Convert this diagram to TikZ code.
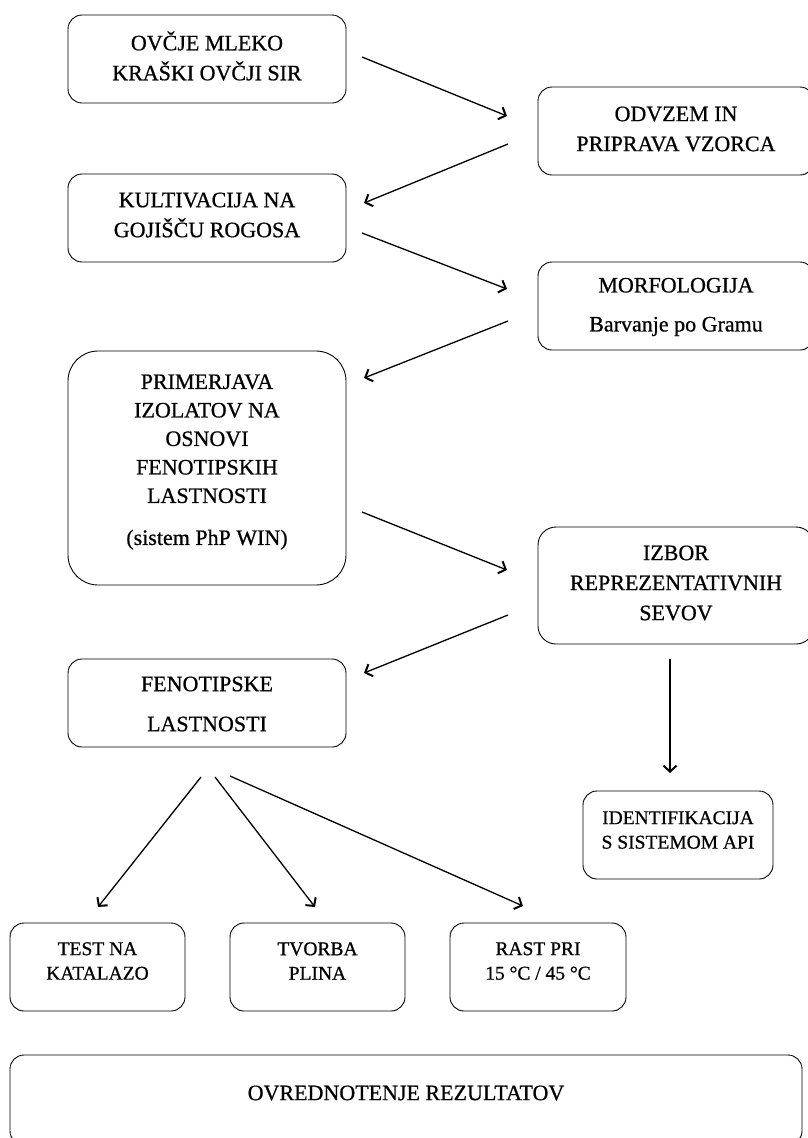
\documentclass[tikz,border=0pt]{standalone}
\usepackage{fontspec}
\setmainfont{Liberation Serif}[FakeBold=0.7]
\usetikzlibrary{arrows.meta}
\begin{document}
\begin{tikzpicture}[x=1pt,y=-1pt,
  box/.style={draw, line width=0.9pt, rounded corners=14pt, inner sep=0pt,
              minimum width=278pt, minimum height=88pt},
  txt/.style={align=center, inner sep=0pt},
  big/.style={font=\fontsize{22}{30}\selectfont},
  small/.style={font=\fontsize{19.5}{24.5}\selectfont},
  arr/.style={-{Straight Barb[length=6pt,width=13pt,line width=2pt]}, line width=1.3pt}
]
\useasboundingbox (0,0) rectangle (807,1138);

% boxes
\node[box] (b1) at (207,59) {};
\node[box, minimum width=276pt] (b2) at (676,131) {};
\node[box] (b3) at (207,218) {};
\node[box, minimum width=276pt] (b4) at (676,306) {};
\node[box, minimum height=234pt, rounded corners=30pt] (b5) at (207,468) {};
\node[box, minimum width=276pt, minimum height=117pt, rounded corners=18pt] (b6) at (676,585.5) {};
\node[box] (b7) at (207,703) {};
\node[box, minimum width=190pt] (b8) at (678,835) {};
\node[box, minimum width=175pt] (b9) at (97.5,967) {};
\node[box, minimum width=175pt] (b10) at (317.5,967) {};
\node[box, minimum width=176pt] (b11) at (538,967) {};
\node[box, minimum width=792pt, minimum height=90pt] (b12) at (406,1100) {};

% texts
\node[txt, big] (t1) at (207,56) {OVČJE MLEKO\\KRAŠKI OVČJI SIR};
\node[txt, big] (t2) at (676,129) {ODVZEM IN\\PRIPRAVA VZORCA};
\node[txt, big] (t3) at (207,215) {KULTIVACIJA NA\\GOJIŠČU ROGOSA};
\node[txt, font=\fontsize{22}{39}\selectfont] (t4) at (676,307) {MORFOLOGIJA\\Barvanje po Gramu};
\node[txt, font=\fontsize{22}{28.5}\selectfont] (t5) at (207,462) {PRIMERJAVA\\IZOLATOV NA\\OSNOVI\\FENOTIPSKIH\\LASTNOSTI\\[13.5pt](sistem PhP WIN)};
\node[txt, big] (t6) at (676,583) {IZBOR\\REPREZENTATIVNIH\\SEVOV};
\node[txt, font=\fontsize{22}{40}\selectfont] (t7) at (207,704) {FENOTIPSKE\\LASTNOSTI};
\node[txt, small] (t8) at (678,830) {IDENTIFIKACIJA\\S SISTEMOM API};
\node[txt, small] (t9) at (97.5,961) {TEST NA\\KATALAZO};
\node[txt, small] (t10) at (317.5,961) {TVORBA\\PLINA};
\node[txt, small] (t11) at (538,961) {RAST PRI\\15 °C / 45 °C};
\node[txt, big] (t12) at (406,1093) {OVREDNOTENJE REZULTATOV};

% arrow end points
\coordinate (a1s) at (362,57);  \coordinate (a1e) at (507,116);
\coordinate (a2s) at (508,144); \coordinate (a2e) at (364,203);
\coordinate (a3s) at (362,233); \coordinate (a3e) at (507,289);
\coordinate (a4s) at (508,321); \coordinate (a4e) at (364,378);
\coordinate (a5s) at (362,512); \coordinate (a5e) at (507,570);
\coordinate (a6s) at (508,615); \coordinate (a6e) at (364,673);
\coordinate (a7s) at (670,659); \coordinate (a7e) at (670,773);
\coordinate (a8s) at (201,777); \coordinate (a8e) at (98,907);
\coordinate (a9s) at (215,777); \coordinate (a9e) at (315,907);
\coordinate (a10s) at (230,776); \coordinate (a10e) at (523,906);

\foreach \i in {1,...,10} \draw[arr] (a\i s) -- (a\i e);
\end{tikzpicture}
\end{document}
